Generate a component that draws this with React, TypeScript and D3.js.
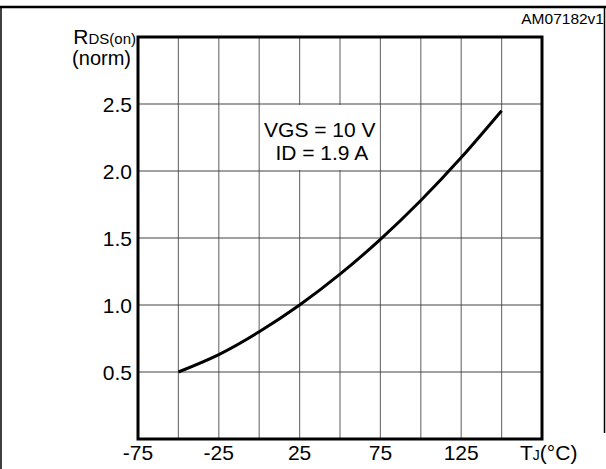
import React from "react";
import * as d3 from "d3";

const TEMPS = [-50, -25, 0, 25, 50, 75, 100, 125, 150];
const RDS_NORM = [0.5, 0.63, 0.8, 1.0, 1.23, 1.49, 1.78, 2.1, 2.45];
const X_TICKS = [-75, -25, 25, 75, 125];
const Y_TICKS = [0.5, 1.0, 1.5, 2.0, 2.5];
const X_GRID = [-50, -25, 0, 25, 50, 75, 100, 125, 150];
const CONDITIONS = ["VGS = 10 V", "ID = 1.9 A"];
const CODE = "AM07182v1";

const W = 606;
const H = 469;
const FONT = "'Liberation Sans', Arial, Helvetica, sans-serif";

export default function App() {
  const x = d3.scaleLinear().domain([-75, 175]).range([138, 542]);
  const y = d3.scaleLinear().domain([0, 3]).range([439, 37]);
  const pts: [number, number][] = TEMPS.map((t, i) => [t, RDS_NORM[i]]);
  const line = d3
    .line<[number, number]>()
    .x((d) => x(d[0]))
    .y((d) => y(d[1]))
    .curve(d3.curveNatural);
  const fmt = d3.format(".1f");
  const [x0, x1] = x.range();
  const [y0, y1] = y.range();
  const boxL = x(0) + 1;
  const boxR = x(75) - 1;
  const boxT = y(2.5) + 1;
  const boxB = y(2.0) - 1;
  const boxC = (x(0) + x(75)) / 2;

  return (
    <svg
      width={W}
      height={H}
      style={{ position: "absolute", left: 0, top: 0, background: "#fff" }}
      fontFamily={FONT}
    >
      <rect x={0} y={0} width={W} height={H} fill="#fff" />
      {/* outer frame */}
      <line x1={0} x2={W} y1={7} y2={7} stroke="#000" strokeWidth={2.5} />
      <line x1={1} x2={1} y1={7} y2={H} stroke="#000" strokeWidth={1.5} />
      <line x1={604.5} x2={604.5} y1={7} y2={433} stroke="#000" strokeWidth={1.5} />

      {/* grid */}
      {X_GRID.map((t) => (
        <line key={"vx" + t} x1={x(t)} x2={x(t)} y1={y1} y2={y0} stroke="#777" strokeWidth={1.2} />
      ))}
      {Y_TICKS.map((v) => (
        <line key={"hy" + v} x1={x0} x2={x1} y1={y(v)} y2={y(v)} stroke="#444" strokeWidth={1.2} />
      ))}

      {/* condition box */}
      <rect x={boxL} y={boxT} width={boxR - boxL} height={boxB - boxT} fill="#fff" />
      <text x={boxC} y={y(2.5) + 33} fontSize={21} textAnchor="middle" fill="#000">
        {CONDITIONS[0]}
      </text>
      <text x={boxC + 2} y={y(2.5) + 56} fontSize={21} textAnchor="middle" fill="#000">
        {CONDITIONS[1]}
      </text>

      {/* curve */}
      <path d={line(pts) || ""} fill="none" stroke="#000" strokeWidth={3} strokeLinejoin="round" />

      {/* plot border */}
      <rect x={x0} y={y1} width={x1 - x0} height={y0 - y1} fill="none" stroke="#000" strokeWidth={3} />

      {/* y tick labels */}
      {Y_TICKS.map((v) => (
        <text key={"yl" + v} x={x0 - 6} y={y(v) + 7.5} fontSize={21} textAnchor="end" fill="#000">
          {fmt(v)}
        </text>
      ))}
      {/* x tick labels */}
      {X_TICKS.map((t) => (
        <text key={"xl" + t} x={x(t)} y={460} fontSize={21} textAnchor="middle" fill="#000">
          {String(t)}
        </text>
      ))}

      {/* axis titles */}
      <text x={x0 - 2} y={44} textAnchor="end" fill="#000">
        <tspan fontSize={21}>R</tspan>
        <tspan fontSize={15}>DS(on)</tspan>
      </text>
      <text x={x0 - 7} y={65} textAnchor="end" fontSize={20} fill="#000">
        (norm)
      </text>
      <text x={x(175) - 22} y={460} fill="#000">
        <tspan fontSize={21}>T</tspan>
        <tspan fontSize={14}>J</tspan>
        <tspan fontSize={21}>(°C)</tspan>
      </text>

      <text x={604} y={24} textAnchor="end" fontSize={15.5} fill="#000">
        {CODE}
      </text>
    </svg>
  );
}
